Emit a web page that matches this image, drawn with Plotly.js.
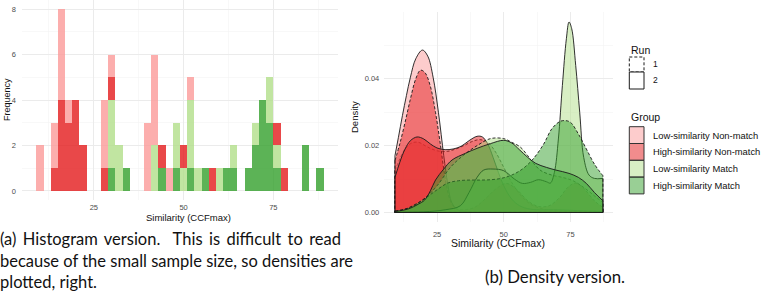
<!DOCTYPE html>
<html><head><meta charset="utf-8">
<script src="https://cdn.plot.ly/plotly-3.0.1.min.js"></script>
<style>
html,body{margin:0;padding:0;background:#fff;}
#wrap{position:relative;width:762px;height:292px;overflow:hidden;background:#fff;}
#chart{position:absolute;left:0;top:0;width:762px;height:292px;}
.cap{position:absolute;font-family:Lato,'Noto Sans',sans-serif;color:#111;font-size:16.5px;line-height:21.5px;}
#capA{left:0;top:229px;width:341px;}
#capA .j{text-align:justify;text-align-last:justify;white-space:nowrap;}
#capB{left:455px;width:200px;top:266px;text-align:center;font-size:16.8px;}
</style></head>
<body><div id="wrap"><div id="chart"></div>
<div id="capA" class="cap"><div class="j">(a) Histogram version.&nbsp; This is difficult to read</div><div class="j">because of the small sample size, so densities are</div><div>plotted, right.</div></div>
<div id="capB" class="cap">(b) Density version.</div></div>
<script>
// ---------- DATA ----------
const groupNames = ['Low-similarity Non-match','High-similarity Non-match','Low-similarity Match','High-similarity Match'];
const runNames = ['1','2'];
const xTickVals = [25,50,75];
const histYTicks = [0,2,4,6,8];
const densYTicks = [0,0.02,0.04];
const densYTickText = ['0.00','0.02','0.04'];

// histogram bin centers (binwidth 2)
const binCenters = [10,12,14,16,18,20,22,24,26,28,30,32,34,36,38,40,42,44,46,48,50,52,54,56,58,60,62,64,66,68,70,72,74,76,78,80,82,84,86,88];
const countLSNM = [2,0,2,4,1,0,0,0,0,3, 1,0,0,0,0,3,4,0,1,0, 0,1,0,0,0,0,0,0,0,0, 0,0,0,0,0,0,0,0,0,0];
const countHSNM = [0,0,1,4,3,4,2,0,0,1, 1,0,0,0,0,0,0,1,0,0, 1,0,0,0,1,0,0,0,0,0, 0,0,0,1,1,0,0,0,0,0];
const countLSM  = [0,0,0,0,0,0,0,0,0,0, 3,2,0,0,0,0,2,0,0,2, 1,3,1,0,0,1,0,1,0,0, 1,0,2,1,0,0,0,0,0,0];
const countHSM  = [0,0,0,0,0,0,0,0,0,0, 1,0,1,0,0,0,0,1,0,1, 0,1,0,1,0,0,1,1,0,1, 2,4,3,1,0,0,0,2,0,1];

// density curves (Group x Run)
const densLSNM1x = [9.2,11,13,15.5,18,20.5,23,26,29,32,35,38,41,44,47,50,53,56,60,65,72,80,87.2];
const densLSNM1y = [0.0125,0.016,0.019,0.0208,0.021,0.020,0.019,0.0183,0.0183,0.019,0.020,0.0212,0.0218,0.021,0.018,0.0135,0.009,0.0055,0.0025,0.001,0.0004,0.0002,0.0001];
const densLSNM2x = [9.2,10.5,12,13.5,15,17,19.5,21.5,23.5,25.5,27.5,29,30.5,33,38,50,65,87.2];
const densLSNM2y = [0.017,0.0225,0.029,0.035,0.0405,0.046,0.0486,0.0468,0.0405,0.030,0.017,0.0085,0.003,0.0007,0.0002,0.0001,0.0001,0.0001];
const densHSNM1x = [9.2,11,13,15,17,18.8,20.5,22.4,24.4,26.3,28.1,30,32,35,39,43,47,51,55,59,63,67,71,74,77,80,84,87.2];
const densHSNM1y = [0.0155,0.0205,0.027,0.034,0.040,0.0426,0.0418,0.038,0.030,0.020,0.010,0.0035,0.0012,0.0008,0.0015,0.004,0.007,0.0087,0.0068,0.0035,0.0018,0.002,0.0045,0.0075,0.0088,0.0072,0.0035,0.0015];
const densHSNM2x = [9.2,11,13,15,17.5,20,22.5,25,28,31,34,37,40,42,44,46,48,50,53,56,60,70,80,87.2];
const densHSNM2y = [0.0105,0.015,0.019,0.0215,0.0226,0.022,0.0205,0.0193,0.0188,0.019,0.0198,0.0215,0.0228,0.0226,0.0205,0.0165,0.012,0.008,0.004,0.002,0.001,0.0008,0.0005,0.0003];
const densLSM1x = [9.2,15,20,25,30,35,40,45,50,53,56.2,59,61.2,64,68,72,76,80,84,87.2];
const densLSM1y = [0.0004,0.0015,0.004,0.008,0.0135,0.0172,0.020,0.0221,0.0221,0.021,0.0196,0.017,0.0147,0.0125,0.0112,0.0105,0.0095,0.0075,0.005,0.003];
const densLSM2x = [9.2,20,28,33.7,37,40,42.5,46,50,54,57,60,63,66,67.5,69,70.5,72,73.5,74.5,75.5,77,78.5,80,82,84,87.2];
const densLSM2y = [0.0001,0.0002,0.0008,0.002,0.006,0.0105,0.0127,0.013,0.0125,0.010,0.0087,0.009,0.0098,0.0092,0.0088,0.012,0.022,0.038,0.052,0.057,0.055,0.044,0.030,0.0165,0.0112,0.0102,0.0102];
const densHSM1x = [9.2,13,17,21,25,29,33,37,41,45,49,53,57,61,65,68,71,73,75,78,81,84,87.2];
const densHSM1y = [0.0004,0.001,0.0025,0.0045,0.0068,0.0088,0.0095,0.0097,0.0097,0.0098,0.0102,0.0112,0.013,0.016,0.0205,0.025,0.0272,0.0275,0.027,0.0235,0.019,0.0145,0.011];
const densHSM2x = [9.2,14,18,20.3,22.5,24.4,27.5,30.6,35.6,40,45,50,53,56,59,62,66,69.5,74.5,78,81,84,87.2];
const densHSM2y = [0.0003,0.001,0.0025,0.0037,0.0065,0.0097,0.013,0.0157,0.0177,0.0192,0.0206,0.0216,0.0208,0.0187,0.0165,0.0147,0.0135,0.0127,0.0117,0.0105,0.0087,0.006,0.0035];

// ---------- STYLE ----------
const groupRGB = ['251,154,153','227,26,28','178,223,138','51,160,44'];
const W = 762, H = 292;
const px = v => v / W;
const py = v => 1 - v / H;
const FONT = 'Liberation Sans';
const lineCol = '#1a1a1a';
const dashStyle = '3px,2px';

const traces = [];
// stacked histogram (bottom layer first)
const histCounts = [countLSNM, countHSNM, countLSM, countHSM];
[3,2,1,0].forEach(g => {
  traces.push({type:'bar', x: binCenters, y: histCounts[g], width: 2, name: groupNames[g],
    marker:{color:'rgba(' + groupRGB[g] + ',0.8)', line:{width:0}},
    xaxis:'x', yaxis:'y', hoverinfo:'skip', showlegend:false});
});

// densities
const dens = [
  [0,0,densLSNM1x,densLSNM1y],[0,1,densLSNM2x,densLSNM2y],
  [1,0,densHSNM1x,densHSNM1y],[1,1,densHSNM2x,densHSNM2y],
  [2,0,densLSM1x,densLSM1y],[2,1,densLSM2x,densLSM2y],
  [3,0,densHSM1x,densHSM1y],[3,1,densHSM2x,densHSM2y]
];
dens.forEach(([g,r,xs,ys]) => {
  const dash = r === 0 ? dashStyle : 'solid';
  traces.push({type:'scatter', mode:'lines', x: xs, y: ys, fill:'tozeroy',
    fillcolor:'rgba(' + groupRGB[g] + ',0.5)',
    line:{color:lineCol, width:0.9, dash: dash, shape:'spline', smoothing:1},
    name: groupNames[g] + ' run ' + runNames[r], xaxis:'x2', yaxis:'y2', hoverinfo:'skip', showlegend:false});
  const n = xs.length - 1;
  traces.push({type:'scatter', mode:'lines', x:[xs[0],xs[0],xs[n],xs[n]], y:[ys[0],0,0,ys[n]],
    line:{color:lineCol, width:0.9, dash: dash}, xaxis:'x2', yaxis:'y2', hoverinfo:'skip', showlegend:false});
});

const gridMajor = '#EBEBEB', gridMinor = '#F4F4F4';
const baseAxis = {showgrid:true, gridcolor:gridMajor, gridwidth:1, zeroline:false, showline:false, ticks:'',
  tickfont:{family:FONT, size:7.5, color:'#4d4d4d'}, fixedrange:true};

const annotations = [];
function addText(text, x, y, opts) {
  annotations.push(Object.assign({text: text, x: px(x), y: py(y), xref:'paper', yref:'paper', showarrow:false,
    xanchor:'center', yanchor:'middle', font:{family:FONT, size:9, color:'#111'}}, opts || {}));
}
// axis titles
addText('Similarity (CCFmax)', 188, 217, {font:{family:FONT, size:9.5, color:'#111'}});
addText('Frequency', 7, 100, {textangle:-90, font:{family:FONT, size:9, color:'#111'}});
addText('Similarity (CCFmax)', 498, 243, {font:{family:FONT, size:10.5, color:'#111'}});
addText('Density', 355, 117, {textangle:-90, font:{family:FONT, size:9.5, color:'#111'}});
// legend text
addText('Run', 629, 50, {xanchor:'left', font:{family:FONT, size:10.5, color:'#111'}});
addText(runNames[0], 651, 64.5, {xanchor:'left', font:{family:FONT, size:8.5, color:'#111'}});
addText(runNames[1], 651, 80.5, {xanchor:'left', font:{family:FONT, size:8.5, color:'#111'}});
addText('Group', 629, 117, {xanchor:'left', font:{family:FONT, size:10.5, color:'#111'}});
const keyTop = 126.7, keyH = 16.8;
groupNames.forEach((nm, i) => {
  addText(nm, 651, keyTop + keyH * (i + 0.5), {xanchor:'left', font:{family:FONT, size:9.4, color:'#111'}});
});

const shapes = [];
shapes.push({type:'rect', xref:'paper', yref:'paper', x0:px(629.3), x1:px(644), y0:py(57), y1:py(72),
  fillcolor:'#fff', line:{color:lineCol, width:1, dash:dashStyle}});
shapes.push({type:'rect', xref:'paper', yref:'paper', x0:px(629.3), x1:px(644), y0:py(72), y1:py(89),
  fillcolor:'#fff', line:{color:lineCol, width:1}});
groupNames.forEach((nm, i) => {
  shapes.push({type:'rect', xref:'paper', yref:'paper', x0:px(629.3), x1:px(644),
    y0:py(keyTop + keyH * i), y1:py(keyTop + keyH * (i + 1)),
    fillcolor:'rgba(' + groupRGB[i] + ',0.5)', line:{color:'#333', width:1}});
});

const layout = {
  width: W, height: H, margin:{l:0, r:0, t:0, b:0}, paper_bgcolor:'rgba(0,0,0,0)', plot_bgcolor:'rgba(0,0,0,0)',
  showlegend:false, barmode:'stack', bargap:0, font:{family:FONT},
  xaxis: Object.assign({}, baseAxis, {domain:[px(22), px(338)], range:[5,93], tickvals:xTickVals, anchor:'y',
    ticklabelstandoff:1,
    minor:{tickvals:[12.5,37.5,62.5,87.5], showgrid:true, gridcolor:gridMinor, gridwidth:0.6}}),
  yaxis: Object.assign({}, baseAxis, {domain:[py(200), 1], range:[-0.4,8.4], tickvals:histYTicks, anchor:'x',
    ticklabelstandoff:5,
    minor:{tickvals:[1,3,5,7], showgrid:true, gridcolor:gridMinor, gridwidth:0.6}}),
  xaxis2: Object.assign({}, baseAxis, {domain:[px(384.3), px(613.3)], range:[5.2,91.1], tickvals:xTickVals, anchor:'y2',
    ticklabelstandoff:6,
    minor:{tickvals:[12.5,37.5,62.5,87.5], showgrid:true, gridcolor:gridMinor, gridwidth:0.6}}),
  yaxis2: Object.assign({}, baseAxis, {domain:[py(222), py(12)], range:[-0.00285,0.0600], tickvals:densYTicks,
    ticktext:densYTickText, anchor:'x2', ticklabelstandoff:4,
    minor:{tickvals:[0.01,0.03,0.05], showgrid:true, gridcolor:gridMinor, gridwidth:0.6}}),
  annotations: annotations, shapes: shapes
};

Plotly.newPlot('chart', traces, layout, {staticPlot:true, displayModeBar:false});
</script>
</body></html>
